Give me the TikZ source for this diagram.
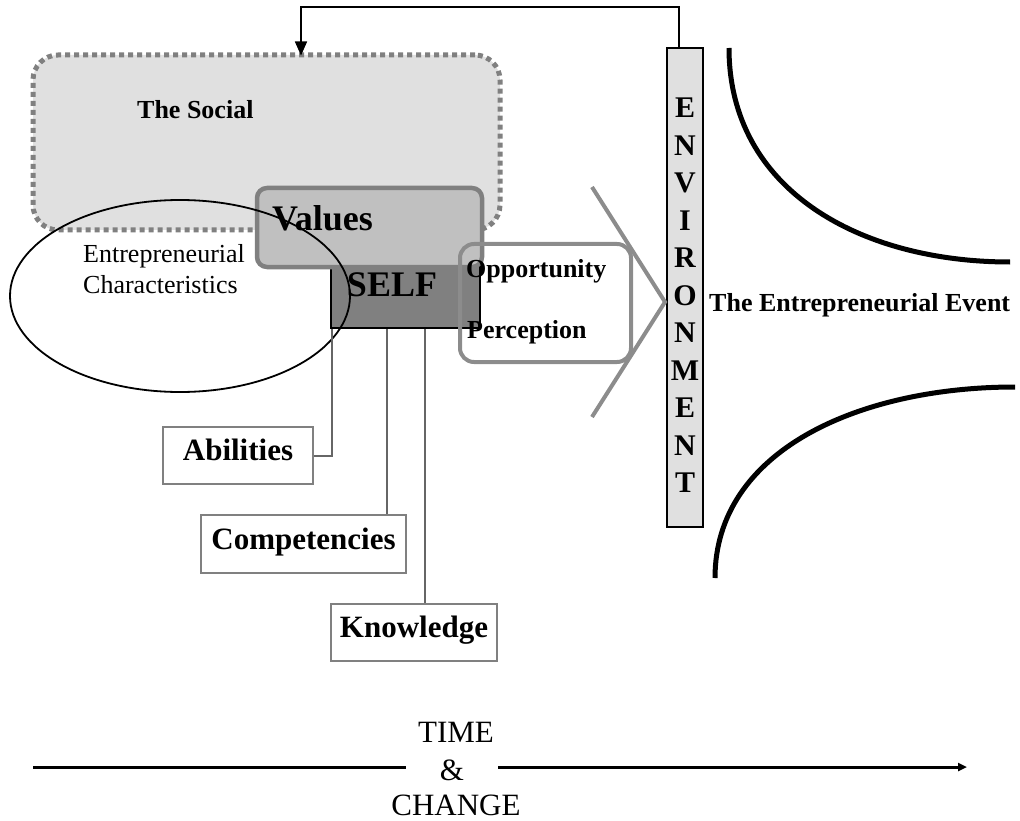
\documentclass[tikz,border=0pt]{standalone}
\usepackage{fontspec}
\setmainfont{Liberation Serif}
\usetikzlibrary{arrows.meta,shapes.geometric}
\definecolor{lightg}{HTML}{E0E0E0}
\definecolor{midg}{HTML}{C0C0C0}
\definecolor{darkg}{HTML}{808080}
\definecolor{rimg}{HTML}{8C8C8C}
\definecolor{wireg}{HTML}{666666}
\begin{document}
\begin{tikzpicture}[x=1pt,y=-1pt,
  socialbox/.style={rectangle,rounded corners=25pt,fill=lightg,draw=darkg,line width=5pt,dash pattern=on 5pt off 4pt,inner sep=0pt},
  valuebox/.style={rectangle,rounded corners=10pt,fill=midg,draw=darkg,line width=4.5pt,inner sep=0pt},
  selfbox/.style={rectangle,fill=darkg,draw=black,line width=2pt,inner sep=0pt},
  oppbox/.style={rectangle,rounded corners=14pt,draw=rimg,line width=4pt,inner sep=0pt},
  envbox/.style={rectangle,fill=lightg,draw=black,line width=2pt,inner sep=0pt},
  itembox/.style={rectangle,draw=darkg,line width=1.5pt,inner sep=0pt,font=\bfseries\fontsize{31}{37}\selectfont,text height=21pt,text depth=11pt},
  wire/.style={draw=wireg,line width=2pt},
  chev/.style={draw=rimg,line width=4pt},
  bigcurve/.style={draw=black,line width=5pt},
  lbl/.style={inner sep=0pt}
]
\useasboundingbox (0,0) rectangle (1020,821);

% The Social
\node[socialbox,minimum width=467pt,minimum height=175pt] (social) at (266.5,142.5) {};
\node[lbl,anchor=base west,font=\bfseries\fontsize{26}{31}\selectfont] (sociallbl) at (137,119) {The Social};

% SELF and Values
\node[selfbox,minimum width=149pt,minimum height=78pt] (self) at (405.5,289) {};
\node[valuebox,minimum width=225pt,minimum height=79pt] (values) at (369.5,227.5) {};
\node[lbl,anchor=base west,font=\bfseries\fontsize{36}{43}\selectfont] (valueslbl) at (272,230) {Values};
\node[lbl,anchor=base,font=\bfseries\fontsize{36}{43}\selectfont] (selflbl) at (392,296) {SELF};

% Opportunity Perception
\node[oppbox,minimum width=171pt,minimum height=118pt] (opp) at (545.5,303) {};
\node[lbl,anchor=base west,font=\bfseries\fontsize{26}{31}\selectfont] (opplbl) at (466,277) {Opportunity};
\node[lbl,anchor=base west,font=\bfseries\fontsize{26}{31}\selectfont] (perclbl) at (467,338) {Perception};

% Entrepreneurial Characteristics
\node[ellipse,draw=black,line width=1.8pt,minimum width=340pt,minimum height=192pt,inner sep=0pt] (ec) at (180,296) {};
\node[lbl,anchor=base west,font=\fontsize{26}{31}\selectfont] (eclbl1) at (83,262) {Entrepreneurial};
\node[lbl,anchor=base west,font=\fontsize{26}{31}\selectfont] (eclbl2) at (83,293) {Characteristics};

% Environment
\node[envbox,minimum width=36pt,minimum height=479pt] (env) at (685,287.5) {};
\foreach \ch [count=\i from 0] in {E,N,V,I,R,O,N,M,E,N,T}{
  \node[lbl,font=\bfseries\fontsize{30}{36}\selectfont] (envl\i) at (685,108+37.5*\i) {\ch};
}

% chevron
\coordinate (chevtop) at (592,187);
\coordinate (chevtip) at (665,302);
\coordinate (chevbot) at (592,417);
\draw[chev] (chevtop) -- (chevtip) -- (chevbot);

% The Entrepreneurial Event
\node[lbl,anchor=base west,font=\bfseries\fontsize{26}{31}\selectfont] (event) at (709,311) {The Entrepreneurial Event};
\coordinate (c1a) at (729,48);
\coordinate (c1b) at (1010,262);
\draw[bigcurve] (c1a) .. controls (729,190) and (860,262) .. (c1b);
\coordinate (c2a) at (715,578);
\coordinate (c2b) at (1015,387);
\draw[bigcurve] (c2a) .. controls (715,450) and (860,387) .. (c2b);

% feedback arrow
\coordinate (fbr) at (679,7);
\coordinate (fbl) at (301,7);
\draw[line width=1.5pt,-{Triangle[length=14pt,width=12pt]}] (env.north -| fbr) -- (fbr) -- (fbl) -- ([yshift=-3pt]fbl |- social.north);

% attribute boxes
\node[itembox,minimum width=150pt,minimum height=57pt] (abil) at (238,455.5) {Abilities};
\node[itembox,minimum width=205pt,minimum height=58pt] (comp) at (303.5,544) {Competencies};
\node[itembox,minimum width=166pt,minimum height=57pt] (know) at (414,632.5) {Knowledge};
\coordinate (xa) at (332,0);
\coordinate (xc) at (387,0);
\coordinate (xk) at (425,0);
\draw[wire] (abil.east) -| (xa |- self.south);
\draw[wire] (xc |- self.south) -- (xc |- comp.north);
\draw[wire] (xk |- self.south) -- (xk |- know.north);

% time & change
\node[lbl,anchor=base,font=\fontsize{31}{37}\selectfont] (timelbl) at (456,742) {TIME};
\node[lbl,anchor=base,font=\fontsize{31}{37}\selectfont,inner xsep=34pt] (amp) at (452,780) {\&};
\node[lbl,anchor=base,font=\fontsize{31}{37}\selectfont] (changelbl) at (456,815) {CHANGE};
\coordinate (tstart) at (33,767);
\coordinate (tend) at (967,767);
\draw[line width=3pt] (tstart) -- (tstart -| amp.west);
\draw[line width=3pt,-{Triangle[length=9pt,width=8pt]}] (tend -| amp.east) -- (tend);
\end{tikzpicture}
\end{document}
